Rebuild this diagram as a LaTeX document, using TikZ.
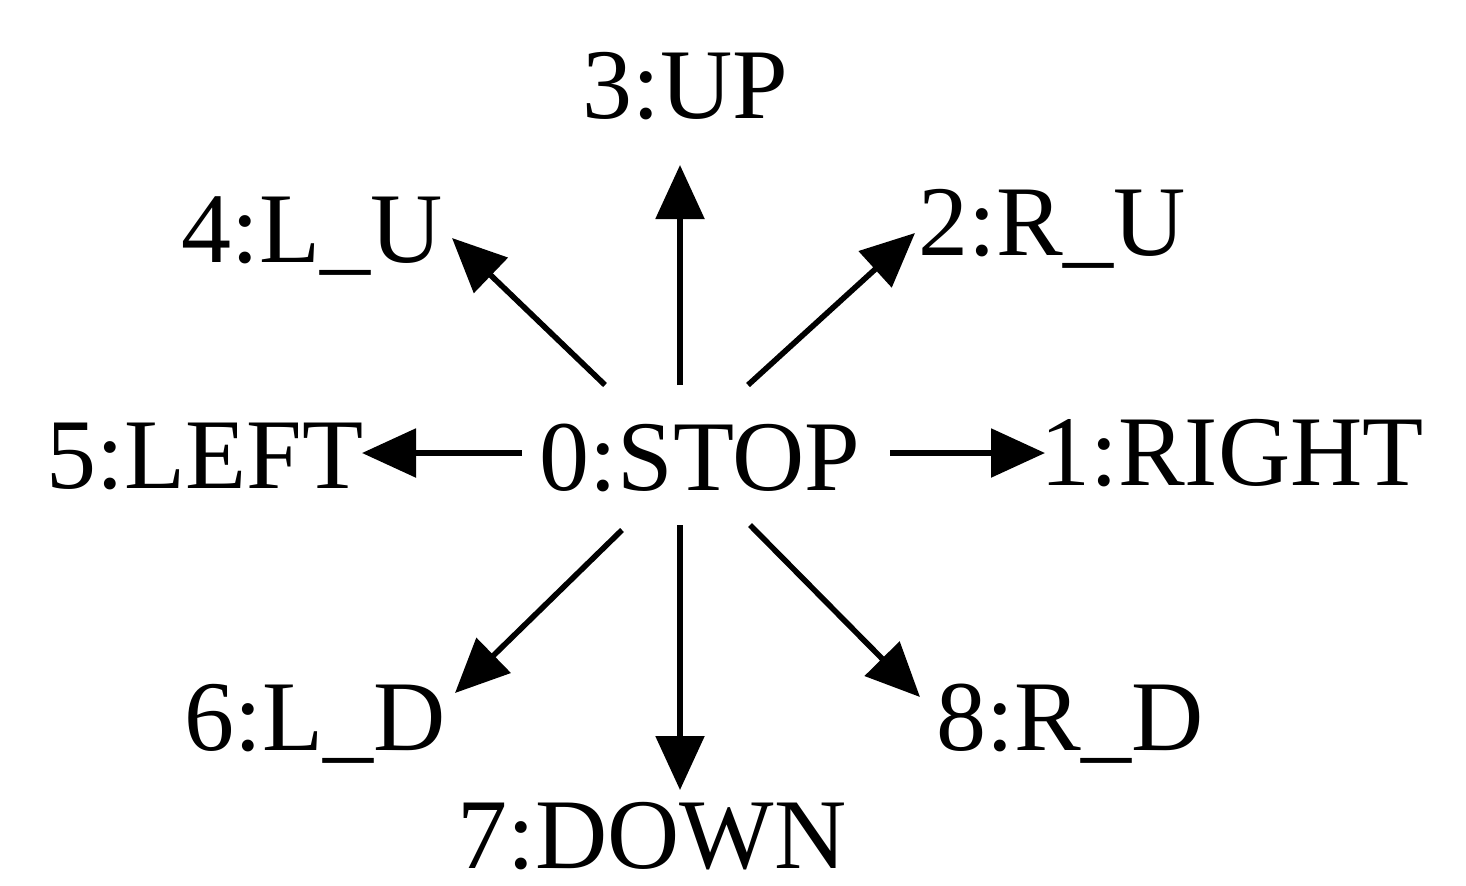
\documentclass[tikz,border=0pt]{standalone}
\usepackage{fontspec}
\setmainfont{Liberation Serif}
\usetikzlibrary{arrows.meta}
\begin{document}
\begin{tikzpicture}[x=0.5pt,y=-0.5pt,
  lbl/.style={inner sep=0pt,anchor=base,font=\fontsize{50}{60}\selectfont},
  arr/.style={line width=2.8pt,-{Triangle[length=27pt,width=24pt]}}]
\useasboundingbox (0,0) rectangle (1466,885);
\node[lbl] (stop)  at (700,490) {0:STOP};
\node[lbl] (up)    at (685,118) {3:UP};
\node[lbl] (lu)    at (312,262) {4:L\_U};
\node[lbl] (ru)    at (1052,255) {2:R\_U};
\node[lbl] (left)  at (205,488) {5:LEFT};
\node[lbl] (right) at (1232,485) {1:RIGHT};
\node[lbl] (ld)    at (315,750) {6:L\_D};
\node[lbl] (down)  at (652,868) {7:DOWN};
\node[lbl] (rd)    at (1070,750) {8:R\_D};
\draw[arr] ([shift={(-20,-105)}]stop.base) -- ([shift={(-5,47)}]up.base);
\draw[arr] ([shift={(-95,-105)}]stop.base) -- ([shift={(140,-24)}]lu.base);
\draw[arr] ([shift={(48,-105)}]stop.base) -- ([shift={(-137,-22)}]ru.base);
\draw[arr] ([shift={(-178,-37)}]stop.base) -- ([shift={(157,-35)}]left.base);
\draw[arr] ([shift={(190,-37)}]stop.base) -- ([shift={(-187,-32)}]right.base);
\draw[arr] ([shift={(-78,40)}]stop.base) -- ([shift={(140,-57)}]ld.base);
\draw[arr] ([shift={(-20,35)}]stop.base) -- ([shift={(28,-78)}]down.base);
\draw[arr] ([shift={(50,35)}]stop.base) -- ([shift={(-150,-53)}]rd.base);
\end{tikzpicture}
\end{document}
